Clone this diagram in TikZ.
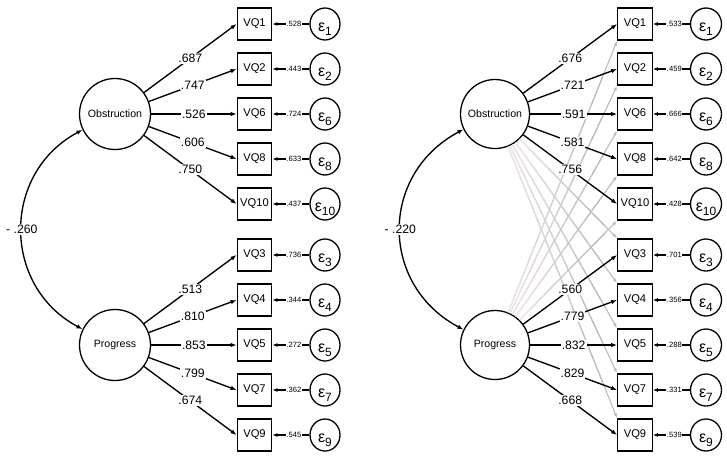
\documentclass[tikz,border=0pt]{standalone}
\usepackage{fontspec}
\setmainfont{Liberation Sans}
\usetikzlibrary{arrows.meta,shapes.geometric,calc}
\definecolor{crossA}{RGB}{243,232,232}
\definecolor{crossB}{RGB}{188,188,188}
\newcommand\epsl[1]{{\fontsize{16}{16}\selectfont ε}\raisebox{-4pt}{\fontsize{12}{12}\selectfont #1}}
\tikzset{
  lat/.style={circle, draw, line width=1.3pt, minimum size=71pt, inner sep=0pt, font=\fontsize{10.6}{12}\selectfont},
  obsv/.style={rectangle, draw, line width=1.3pt, minimum width=34.5pt, minimum height=32pt, inner sep=0pt, font=\fontsize{11.2}{12}\selectfont},
  err/.style={ellipse, draw, line width=1.3pt, minimum width=30pt, minimum height=32pt, inner sep=0pt, text height=14pt, text depth=0pt},
  load/.style={-{Latex[length=6pt,width=4.5pt]}, line width=1.35pt},
  earrow/.style={-{Latex[length=5pt,width=4pt]}, line width=1.2pt},
  covar/.style={{Latex[length=6pt,width=4.5pt]}-{Latex[length=6pt,width=4.5pt]}, line width=1.35pt},
  cross/.style={-{Latex[length=5pt,width=3.5pt]}, draw=crossB, line width=1.1pt},
  lbl/.style={fill=white, inner sep=1pt, font=\fontsize{12.2}{14}\selectfont},
  elbl/.style={fill=white, inner sep=0.7pt, font=\fontsize{7.6}{9}\selectfont},
}
\begin{document}
\begin{tikzpicture}[x=1pt,y=-1pt]
\useasboundingbox (0,0) rectangle (727,459);
% ---------------- left panel ----------------
\node[lat] (Lobs) at (115,114) {Obstruction};
\node[lat] (Lprog) at (115,345) {Progress};
\foreach \id/\yy/\ev in {1/24/.528, 2/69/.443, 6/114/.724, 8/159/.633, 10/204/.437, 3/255/.736, 4/300/.344, 5/345/.272, 7/390/.362, 9/435/.545}{
  \node[obsv] (Lb\id) at (254.5,\yy) {VQ\id};
  \node[err] (Le\id) at (325,\yy) {\epsl{\id}};
  \draw[earrow] (Le\id) -- (Lb\id) node[elbl,pos=0.42] {\ev};
}
\foreach \id/\ld in {1/.687, 2/.747, 6/.526, 8/.606, 10/.750}{
  \draw[load] (Lobs) -- (Lb\id.west) node[lbl,pos=0.5] {\ld};
}
\foreach \id/\ld in {3/.513, 4/.810, 5/.853, 7/.799, 9/.674}{
  \draw[load] (Lprog) -- (Lb\id.west) node[lbl,pos=0.5] {\ld};
}
\draw[covar] (Lobs.206) to[out=208,in=152,looseness=1.18] node[lbl,pos=0.5] {- .260} (Lprog.154);
% ---------------- right panel ----------------
\node[lat, minimum size=69pt] (Robs) at (495,114) {Obstruction};
\node[lat, minimum size=69pt] (Rprog) at (495,345) {Progress};
\foreach \id/\yy/\ev in {1/24/.533, 2/69/.459, 6/114/.666, 8/159/.642, 10/204/.428, 3/255/.701, 4/300/.356, 5/345/.288, 7/390/.331, 9/435/.539}{
  \node[obsv] (Rb\id) at (635,\yy) {VQ\id};
  \node[err, minimum width=31pt] (Re\id) at (706,\yy) {\epsl{\id}};
  \draw[earrow] (Re\id) -- (Rb\id) node[elbl,pos=0.42] {\ev};
}
% cross loadings (grey, fading towards the latent variable)
\foreach \src/\dst in {Rprog/Rb1.south west, Rprog/Rb2.south west, Rprog/Rb6.south west, Rprog/Rb8.south west, Rprog/Rb10.south west, Robs/Rb3.north west, Robs/Rb4.north west, Robs/Rb5.north west, Robs/Rb7.north west, Robs/Rb9.north west}{
  \draw[cross] (\src) -- (\dst) coordinate[pos=0] (cs) coordinate[pos=0.85] (ce);
  \foreach \k in {0,...,9}{
    \pgfmathsetmacro\ta{\k/10}
    \pgfmathsetmacro\tb{(\k+1)/10+0.02}
    \pgfmathtruncatemacro\pc{\k*11}
    \draw[line width=1.1pt, draw=crossB!\pc!crossA] ($(cs)!\ta!(ce)$) -- ($(cs)!\tb!(ce)$);
  }
}
\foreach \id/\ld in {1/.676, 2/.721, 6/.591, 8/.581, 10/.756}{
  \draw[load] (Robs) -- (Rb\id.west) node[lbl,pos=0.5] {\ld};
}
\foreach \id/\ld in {3/.560, 4/.779, 5/.832, 7/.829, 9/.668}{
  \draw[load] (Rprog) -- (Rb\id.west) node[lbl,pos=0.5] {\ld};
}
\draw[covar] (Robs.206) to[out=208,in=152,looseness=1.22] node[lbl,pos=0.5] {- .220} (Rprog.154);
\end{tikzpicture}
\end{document}
